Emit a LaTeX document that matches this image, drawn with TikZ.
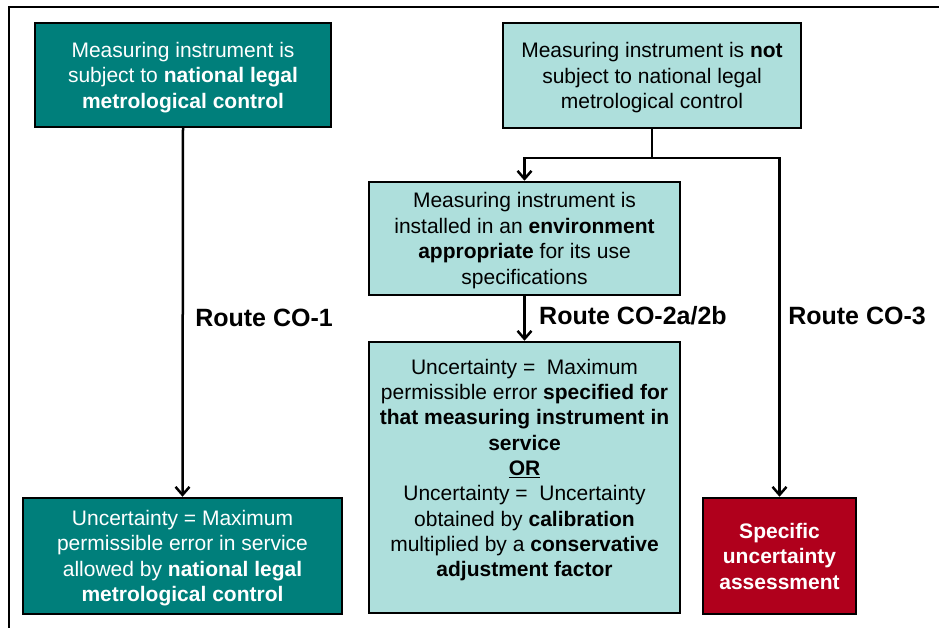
\documentclass[tikz,border=0pt]{standalone}
\usepackage{fontspec}
\setmainfont{Liberation Sans}
\usetikzlibrary{arrows.meta}
\definecolor{darkteal}{HTML}{007F7B}
\definecolor{lightteal}{HTML}{AEDFDC}
\definecolor{darkred}{HTML}{B0001C}
\tikzset{
  box/.style={draw=black, line width=2.5pt, inner sep=0pt, align=center,
    text depth=0pt, font=\fontsize{21}{25.5}\selectfont},
  darkbox/.style={box, fill=darkteal, text=white},
  lightbox/.style={box, fill=lightteal, text=black},
  redbox/.style={box, fill=darkred, text=white},
  conn/.style={line width=2.5pt, -{Straight Barb[length=8pt,width=14pt,line width=2.5pt]}},
  plain/.style={line width=2.5pt},
  route/.style={font=\fontsize{25}{30}\selectfont\bfseries}
}
\begin{document}
\begin{tikzpicture}[x=1pt,y=-1pt]
\useasboundingbox (0,0) rectangle (939,628);
\begin{scope}
\clip (0,0) rectangle (939,628);
\draw[line width=2.5pt] (9,640) -- (9,7) -- (950,7);
\end{scope}

\node[darkbox, minimum width=296pt, minimum height=104pt] (b1) at (183,75)
  {Measuring instrument is\\ subject to \textbf{national legal}\\ \textbf{metrological control}};
\node[lightbox, minimum width=298pt, minimum height=105pt] (b2) at (652,75.5)
  {Measuring instrument is \textbf{not}\\ subject to national legal\\ metrological control};
\node[lightbox, minimum width=311pt, minimum height=113pt] (b3) at (524.5,238.5)
  {Measuring instrument is\\ installed in an \textbf{environment}\\ \textbf{appropriate} for its use\\ specifications};
\node[lightbox, minimum width=311pt, minimum height=271pt] (b4) at (524.5,477.5) {};
\node[align=center, inner sep=0pt, font=\fontsize{21}{25.3}\selectfont] (b4t) at (524.5,470)
  {Uncertainty =\ \ Maximum\\ permissible error \textbf{specified for}\\ \textbf{that measuring instrument in}\\ \textbf{service}\\ \textbf{\underline{OR}}\\ Uncertainty =\ \ Uncertainty\\ obtained by \textbf{calibration}\\ multiplied by a \textbf{conservative}\\ \textbf{adjustment factor}};
\node[darkbox, minimum width=319pt, minimum height=116pt] (b5) at (182.5,556)
  {Uncertainty = Maximum\\ permissible error in service\\ allowed by \textbf{national legal}\\ \textbf{metrological control}};
\node[redbox, minimum width=153pt, minimum height=116pt] (b6) at (779.5,556)
  {\textbf{Specific}\\ \textbf{uncertainty}\\ \textbf{assessment}};

\coordinate (j) at (652,158);
\draw[conn] (b1.south) -- (b5.north);
\draw[plain] (b2.south) -- (j);
\draw[conn] (j) -| (b3.north);
\draw[conn] (j) -| (b6.north);
\draw[conn] (b3.south) -- (b4.north);

\node[route] (r1) at (264,318) {Route CO-1};
\node[route] (r2) at (633,316) {Route CO-2a/2b};
\node[route] (r3) at (857,316) {Route CO-3};
\end{tikzpicture}
\end{document}
